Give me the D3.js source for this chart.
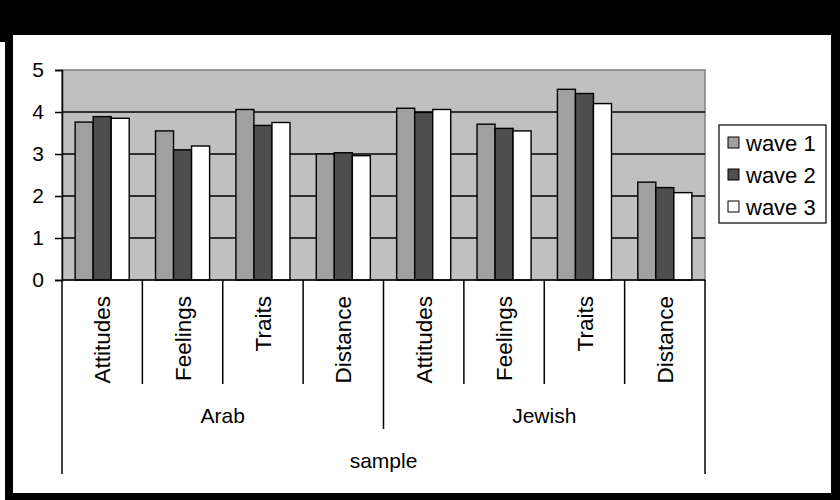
<!DOCTYPE html>
<meta charset="utf-8">
<style>
body { margin: 0; background: #000; }
text { font-family: "Liberation Sans", Arial, sans-serif; fill: #000; }
</style>
<svg width="840" height="500"></svg>
<script src="https://cdn.jsdelivr.net/npm/d3@7"></script>
<script>

// Data
var samples = ["Arab", "Jewish"];
var measures = ["Attitudes", "Feelings", "Traits", "Distance"];
var waves = ["wave 1", "wave 2", "wave 3"];
var wave1 = [3.76, 3.55, 4.06, 3.00, 4.09, 3.71, 4.54, 2.33];
var wave2 = [3.89, 3.10, 3.68, 3.03, 3.99, 3.61, 4.44, 2.20];
var wave3 = [3.85, 3.19, 3.75, 2.96, 4.06, 3.55, 4.20, 2.08];
var yTicks = [0, 1, 2, 3, 4, 5];

var series = [wave1, wave2, wave3];
var colors = ["#a0a0a0", "#4e4e4e", "#ffffff"];

var svg = d3.select("svg");

// frame: black border with white page
svg.append("rect").attr("width", 840).attr("height", 500).attr("fill", "#000");
svg.append("rect").attr("x", 0).attr("y", 42).attr("width", 5).attr("height", 458).attr("fill", "#fff");
svg.append("rect").attr("x", 13).attr("y", 35).attr("width", 818).attr("height", 458).attr("fill", "#fff");

// build category keys (sample|measure)
var keys = [];
samples.forEach(function(s) {
  measures.forEach(function(m) { keys.push({ sample: s, measure: m, key: s + "|" + m }); });
});

// plot box (note: "top" is reserved on window, so use other names)
var plotL = 62, plotR = 705, plotT = 70, plotB = 280;

var x0 = d3.scaleBand()
    .domain(keys.map(function(d) { return d.key; }))
    .range([plotL, plotR])
    .padding(0);

var x1 = d3.scaleBand()
    .domain(waves)
    .range([0, x0.bandwidth()])
    .paddingInner(0)
    .paddingOuter(0.73);

var y = d3.scaleLinear().domain([0, 5]).range([plotB, plotT]);

// plot area
svg.append("rect")
    .attr("x", plotL).attr("y", plotT)
    .attr("width", plotR - plotL).attr("height", plotB - plotT)
    .attr("fill", "#c0c0c0")
    .attr("stroke", "#808080")
    .attr("stroke-width", 1.5);

// gridlines
svg.append("g")
  .selectAll("line")
  .data(yTicks.filter(function(t) { return t > 0 && t < 5; }))
  .enter().append("line")
    .attr("x1", plotL).attr("x2", plotR)
    .attr("y1", function(d) { return y(d); })
    .attr("y2", function(d) { return y(d); })
    .attr("stroke", "#000")
    .attr("stroke-width", 1.5);

// bars
var groups = svg.append("g")
  .selectAll("g")
  .data(keys)
  .enter().append("g")
    .attr("transform", function(d) { return "translate(" + x0(d.key) + ",0)"; });

groups.selectAll("rect")
  .data(function(d, i) { return waves.map(function(w, j) { return { wave: w, value: series[j][i], j: j }; }); })
  .enter().append("rect")
    .attr("x", function(d) { return x1(d.wave); })
    .attr("y", function(d) { return y(d.value); })
    .attr("width", x1.bandwidth())
    .attr("height", function(d) { return y(0) - y(d.value); })
    .attr("fill", function(d) { return colors[d.j]; })
    .attr("stroke", "#000")
    .attr("stroke-width", 1.4);

// y axis
var yAxis = svg.append("g")
    .attr("transform", "translate(" + plotL + ",0)")
    .call(d3.axisLeft(y).tickValues(yTicks).tickFormat(d3.format("d")).tickSize(7).tickPadding(11));
yAxis.select(".domain").attr("stroke", "#000").attr("stroke-width", 1.5);
yAxis.selectAll(".tick line").attr("stroke", "#000").attr("stroke-width", 1.5);
yAxis.selectAll(".tick text")
    .attr("font-size", 21)
    .attr("font-family", "Liberation Sans, Arial, sans-serif")
    .attr("fill", "#000");

// x axis line
svg.append("line")
    .attr("x1", plotL).attr("x2", plotR)
    .attr("y1", plotB).attr("y2", plotB)
    .attr("stroke", "#000").attr("stroke-width", 1.5);

// multi-level category dividers
var bounds = keys.map(function(d) { return x0(d.key); }).concat([plotR]);
svg.append("g")
  .selectAll("line")
  .data(bounds)
  .enter().append("line")
    .attr("x1", function(d) { return d; })
    .attr("x2", function(d) { return d; })
    .attr("y1", plotB)
    .attr("y2", function(d, i) {
      if (i === 0 || i === bounds.length - 1) return 474;
      if (i % measures.length === 0) return 429;
      return 384;
    })
    .attr("stroke", "#000")
    .attr("stroke-width", 1.5);

// measure labels (rotated)
svg.append("g")
  .selectAll("text")
  .data(keys)
  .enter().append("text")
    .attr("transform", function(d) {
      return "translate(" + (x0(d.key) + x0.bandwidth() / 2) + ",296) rotate(-90)";
    })
    .attr("text-anchor", "end")
    .attr("dy", "0.36em")
    .attr("font-size", 22.5)
    .text(function(d) { return d.measure; });

// sample labels
svg.append("g")
  .selectAll("text")
  .data(samples)
  .enter().append("text")
    .attr("x", function(s) {
      var ks = keys.filter(function(k) { return k.sample === s; });
      return (x0(ks[0].key) + x0(ks[ks.length - 1].key) + x0.bandwidth()) / 2;
    })
    .attr("y", 423)
    .attr("text-anchor", "middle")
    .attr("font-size", 21)
    .text(function(s) { return s; });

// axis title
svg.append("text")
    .attr("x", (plotL + plotR) / 2)
    .attr("y", 468)
    .attr("text-anchor", "middle")
    .attr("font-size", 21)
    .text("sample");

// legend
var legend = svg.append("g");
legend.append("rect")
    .attr("x", 719).attr("y", 125)
    .attr("width", 107).attr("height", 98)
    .attr("fill", "#fff")
    .attr("stroke", "#000")
    .attr("stroke-width", 1.2);

var items = legend.selectAll("g.item")
  .data(waves)
  .enter().append("g")
    .attr("class", "item")
    .attr("transform", function(d, i) { return "translate(728," + (143 + i * 32) + ")"; });

items.append("rect")
    .attr("x", 0).attr("y", -6)
    .attr("width", 11).attr("height", 11)
    .attr("fill", function(d, i) { return colors[i]; })
    .attr("stroke", "#000")
    .attr("stroke-width", 1);

items.append("text")
    .attr("x", 18)
    .attr("y", 7.5)
    .attr("font-size", 22)
    .text(function(d) { return d; });

</script>
